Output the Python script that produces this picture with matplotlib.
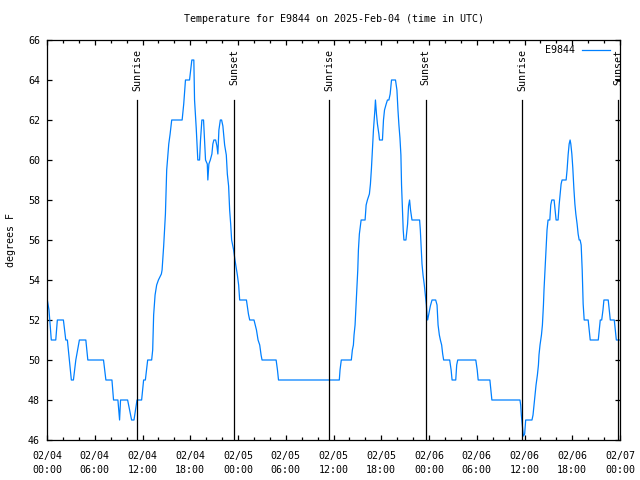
"""Station temperature trace, gnuplot style, with sunrise/sunset markers."""

from datetime import datetime, timedelta

import matplotlib
matplotlib.use("Agg")
import matplotlib.pyplot as plt

STATION = "E9844"
START = datetime(2025, 2, 4, 0, 0)

# hours since 2025-02-04 00:00 UTC, temperature in deg F
hours = [
    0.04, 0.25, 0.54, 1.10, 1.30, 2.06, 2.36, 2.56, 3.06, 3.32, 3.62, 4.07,
    4.88, 5.13, 7.10, 7.40, 8.16, 8.36, 8.91, 9.12, 9.24, 10.13, 10.63, 10.93,
    11.31, 11.89, 12.14, 12.36, 12.65, 13.15, 13.28, 13.40, 13.58, 13.78,
    14.00, 14.37, 14.46, 14.66, 14.88, 15.04, 15.30, 15.47, 15.67, 16.98,
    17.18, 17.40, 17.91, 18.20, 18.45, 18.54, 18.75, 18.95, 19.17, 19.29,
    19.46, 19.67, 19.80, 19.92, 20.14, 20.21, 20.34, 20.52, 20.72, 20.84,
    20.97, 21.19, 21.35, 21.47, 21.60, 21.78, 21.94, 22.10, 22.32, 22.53,
    22.66, 22.82, 22.95, 23.08, 23.20, 23.45, 23.62, 23.92, 24.08, 24.21,
    25.06, 25.31, 25.47, 26.01, 26.32, 26.52, 26.73, 26.90, 27.02, 28.79,
    28.96, 29.09, 36.73, 36.82, 36.98, 38.24, 38.37, 38.50, 38.58, 38.71,
    38.80, 38.92, 39.05, 39.13, 39.25, 39.47, 39.97, 40.10, 40.26, 40.51,
    40.64, 40.77, 40.89, 41.02, 41.20, 41.27, 41.40, 41.52, 41.70, 41.78,
    42.15, 42.28, 42.41, 42.62, 42.78, 42.96, 43.12, 43.29, 43.79, 43.97,
    44.10, 44.22, 44.35, 44.47, 44.55, 44.67, 44.76, 44.85, 45.10, 45.18,
    45.31, 45.43, 45.56, 45.68, 45.86, 46.82, 46.91, 47.03, 47.12, 47.25,
    47.41, 47.54, 47.67, 47.75, 47.83, 47.95, 48.17, 48.38, 48.84, 49.01,
    49.14, 49.30, 49.43, 49.59, 49.72, 49.84, 50.60, 50.78, 50.90, 51.36,
    51.48, 51.61, 53.88, 54.06, 54.18, 55.65, 55.77, 55.90, 59.43, 59.52,
    59.60, 59.73, 59.86, 60.02, 60.15, 60.94, 61.07, 61.20, 61.32, 61.45,
    61.62, 61.75, 61.82, 61.95, 62.13, 62.25, 62.38, 62.45, 62.58, 62.71,
    62.83, 62.96, 63.18, 63.30, 63.43, 63.72, 63.85, 63.97, 64.22, 64.35,
    64.47, 64.60, 64.72, 65.23, 65.35, 65.48, 65.61, 65.73, 65.82, 65.95,
    66.07, 66.20, 66.33, 66.45, 66.61, 66.74, 66.87, 66.99, 67.12, 67.25,
    67.37, 67.50, 68.00, 68.13, 68.26, 69.27, 69.40, 69.52, 69.70, 69.86,
    69.98, 70.52, 70.65, 70.78, 71.28, 71.41, 71.54, 72.00,
]
temps = [
    53, 52.5, 51, 51, 52, 52, 51, 51, 49, 49, 50, 51,
    51, 50, 50, 49, 49, 48, 48, 47, 48, 48, 47, 47,
    48, 48, 49, 49, 50, 50, 50.5, 52.25, 53.25, 53.75,
    54, 54.3, 54.5, 55.7, 57.3, 59.5, 60.8, 61.3, 62, 62,
    62.8, 64, 64, 65, 65, 63, 61.6, 60, 60, 61,
    62, 62, 61, 60, 59.8, 59, 59.8, 60, 60.3, 60.8,
    61, 61, 60.7, 60.3, 61.5, 62, 62, 61.7, 60.75, 60.25,
    59.3, 58.7, 57.5, 56.8, 56, 55.5, 55, 54.25, 53.75, 53,
    53, 52.3, 52, 52, 51.5, 51, 50.75, 50.25, 50, 50,
    49.5, 49, 49, 49.5, 50, 50, 50.5, 50.75, 51.25, 51.75,
    52.5, 53.5, 54.5, 55.5, 56.3, 57, 57, 57.75, 58, 58.3,
    58.8, 59.6, 60.5, 61.5, 62.5, 63, 62.3, 61.8, 61.3, 61,
    61, 62, 62.5, 62.8, 63, 63, 63.3, 64, 64, 63.5,
    62.5, 61.75, 61.1, 60.25, 58.75, 57.5, 56.5, 56, 56, 56.3,
    56.8, 57.7, 58, 57.5, 57, 57, 56.5, 55.5, 54.8, 54.25,
    53.75, 53.25, 52.75, 52.25, 52, 52.25, 52.7, 53, 53, 52.75,
    51.75, 51.25, 51, 50.75, 50.3, 50, 50, 49.5, 49, 49,
    49.75, 50, 50, 49.5, 49, 49, 48.5, 48, 48, 47.75,
    47.25, 46.75, 46.2, 46.3, 47, 47, 47.25, 47.75, 48.25, 48.75,
    49.25, 49.75, 50.25, 50.75, 51.25, 51.75, 52.75, 53.5, 54.5, 55.5,
    56.5, 57, 57, 57.75, 58, 58, 57.5, 57, 57, 57.75,
    58.25, 58.8, 59, 59, 59.5, 60.25, 60.8, 61, 60.8, 60.3,
    59.6, 58.6, 57.8, 57.3, 56.8, 56.3, 56, 56, 55.75, 54.5,
    52.8, 52, 52, 51.5, 51, 51, 51.5, 52, 52, 52.5,
    53, 53, 52.5, 52, 52, 51.5, 51, 51,
]

# sun events, hours since start
event_hours = [11.31, 23.49, 35.47, 47.58, 59.73, 71.79]
event_names = ["Sunrise", "Sunset", "Sunrise", "Sunset", "Sunrise", "Sunset"]

X_MAX = 72
Y_MIN, Y_MAX = 46, 66
FONT = "DejaVu Sans Mono"
FS = 7.2

plt.rcParams["font.family"] = FONT
plt.rcParams["font.size"] = FS

fig = plt.figure(figsize=(6.4, 4.8), dpi=100)
ax = fig.add_axes([47 / 640, 40 / 480, 573 / 640, 400 / 480])

ax.plot(hours, temps, color="#0080ff", linewidth=0.9, label=STATION)

# sunrise / sunset markers: vertical line plus rotated label on top
for h, name in zip(event_hours, event_names):
    ax.plot([h, h], [Y_MIN, 63.0], color="black", linewidth=0.9)
    ax.text(h, 65.55, name, rotation=90, ha="center", va="top",
            fontsize=FS, clip_on=False)

ax.set_xlim(0, X_MAX)
ax.set_ylim(Y_MIN, Y_MAX)

major = list(range(0, X_MAX + 1, 6))
ax.set_xticks(major)
ax.set_xticks(list(range(0, X_MAX + 1, 2)), minor=True)
labels = []
for h in major:
    t = START + timedelta(hours=h)
    labels.append(t.strftime("%m/%d") + "\n" + t.strftime("%H:%M"))
ax.set_xticklabels(labels, linespacing=1.5)
ax.set_yticks(list(range(Y_MIN, Y_MAX + 1, 2)))

ax.tick_params(which="both", direction="in", top=True, right=True,
               width=0.9, colors="black", labelsize=FS)
ax.tick_params(which="major", length=3.5)
ax.tick_params(which="minor", length=2.2)
ax.tick_params(axis="x", pad=8)
ax.tick_params(axis="y", pad=5)

for s in ax.spines.values():
    s.set_linewidth(0.9)

ax.set_title(f"Temperature for {STATION} on 2025-Feb-04 (time in UTC)",
             fontsize=FS, pad=13)
ax.set_ylabel("degrees F", fontsize=FS, labelpad=8.5)

ax.legend(loc="upper right", frameon=False, markerfirst=False,
          handlelength=2.8, handletextpad=0.7, borderpad=0,
          borderaxespad=0, fontsize=FS,
          bbox_to_anchor=(610 / 640, 1 - 45 / 480),
          bbox_transform=fig.transFigure)

fig.savefig("out.png", dpi=100)
plt.close(fig)
